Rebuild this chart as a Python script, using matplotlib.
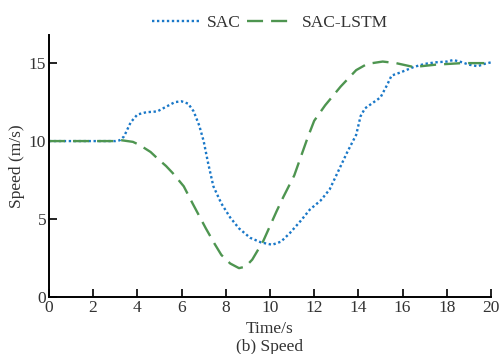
import matplotlib
matplotlib.use("Agg")
import matplotlib.pyplot as plt

t_sac = [0, 3.0, 3.2, 3.4, 3.7, 4.0, 4.4, 4.9, 5.3, 5.7, 6.0, 6.3, 6.55, 6.8, 7.0, 7.2, 7.44, 7.8,
         8.2, 8.6, 9.1, 9.6, 10.1, 10.5, 10.9, 11.4, 11.8, 12.3, 12.7, 13.1, 13.5, 13.9, 14.1, 14.3,
         14.7, 15.0, 15.3, 15.5, 15.9, 16.5, 17.0, 17.5, 18.0, 18.3, 18.7, 19.0, 19.4, 19.7, 20.0]
v_sac = [10, 10, 10.05, 10.3, 11.2, 11.7, 11.85, 11.9, 12.2, 12.5, 12.55, 12.4, 11.9, 11.0, 10.0,
         8.6, 7.1, 6.0, 5.1, 4.4, 3.8, 3.5, 3.35, 3.55, 4.1, 4.9, 5.6, 6.2, 6.9, 8.1, 9.3, 10.4,
         11.6, 12.1, 12.5, 12.8, 13.6, 14.2, 14.4, 14.75, 14.95, 15.05, 15.1, 15.2, 15.05, 14.9,
         14.8, 14.95, 15.05]

t_lstm = [0, 3.0, 3.3, 3.8, 4.1, 4.6, 4.9, 5.3, 5.6, 6.1, 6.5, 6.8, 7.1, 7.5, 7.8, 8.2, 8.6, 8.9,
          9.2, 9.7, 10.3, 10.6, 11.1, 11.4, 11.7, 12.0, 12.5, 13.2, 13.9, 14.4, 15.1, 15.7, 16.5,
          17.5, 18.7, 20.0]
v_lstm = [10, 10, 10.05, 9.95, 9.75, 9.3, 8.9, 8.4, 7.95, 7.1, 6.0, 5.2, 4.4, 3.4, 2.7, 2.15, 1.85,
          1.95, 2.4, 3.6, 5.5, 6.4, 7.8, 9.0, 10.2, 11.3, 12.3, 13.5, 14.55, 14.95, 15.1, 15.0,
          14.75, 14.9, 15.0, 15.0]

xticks = [0, 2, 4, 6, 8, 10, 12, 14, 16, 18, 20]
yticks = [0, 5, 10, 15]

plt.rcParams['font.family'] = ['Liberation Serif', 'DejaVu Serif']
plt.rcParams['font.size'] = 12.5

fig = plt.figure(figsize=(4.99, 3.54), dpi=100)
ax = fig.add_axes([0.098, 0.161, 0.886, 0.740])

ax.plot(t_sac, v_sac, color='#1a78c8', linestyle=(0, (1.0, 1.1)), linewidth=1.7, label='SAC')
ax.plot(t_lstm, v_lstm, color='#4e9550', linestyle=(0, (6.8, 3.4)), linewidth=1.7, label='SAC-LSTM')

ax.set_xlim(0, 20)
ax.set_ylim(0, 16.8)
ax.set_xticks(xticks)
ax.set_yticks(yticks)
ax.spines['top'].set_visible(False)
ax.spines['right'].set_visible(False)
for s in ('left', 'bottom'):
    ax.spines[s].set_linewidth(1.4)
ax.tick_params(direction='in', length=6, width=1.4, pad=2, colors='#222222', labelcolor='#333333')

ax.set_ylabel('Speed (m/s)', color='#333333', labelpad=3)
fig.text(0.541, 0.072, 'Time/s', ha='center', va='center', color='#333333', fontsize=12.5)
fig.text(0.541, 0.02, '(b) Speed', ha='center', va='center', color='#333333', fontsize=12.5)

leg = fig.legend(loc='center', bbox_to_anchor=(0.541, 0.934), ncol=2, frameon=False,
                 handlelength=2.7, columnspacing=0.4, handletextpad=0.46)
for txt in leg.get_texts():
    txt.set_color('#333333')

fig.savefig('out.png', dpi=100)
